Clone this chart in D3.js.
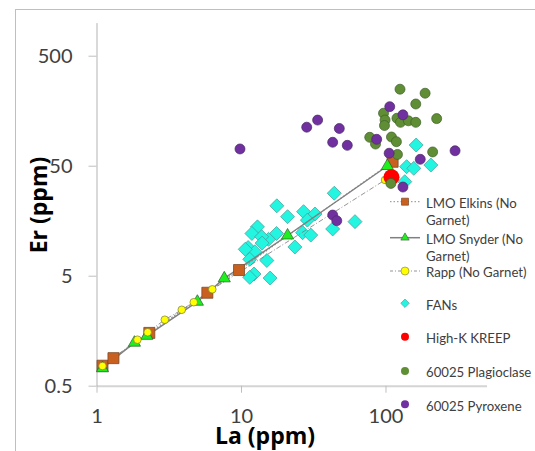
<!DOCTYPE html>
<html lang="en">
<head>
<meta charset="UTF-8">
<title>Er vs La</title>
<style>
  body { margin: 0; background: #fff; }
  text { font-family: Lato, "Open Sans", sans-serif; }
</style>
</head>
<body>
<div id="wrapper"></div>
<script src="https://cdn.jsdelivr.net/npm/d3@7"></script>
<script>
// data: [La, Er] in ppm
const elkins = [[1.10, 0.76], [1.31, 0.89], [2.32, 1.51], [5.85, 3.50], [9.69, 5.63], [112, 54.3]];
const snyder = [[1.10, 0.72], [1.83, 1.23], [2.23, 1.42], [4.99, 2.90], [7.66, 4.73], [21.0, 11.6], [103, 49.7]];
const rapp = [[1.10, 0.755], [1.92, 1.31], [2.26, 1.53], [2.97, 1.99], [3.89, 2.45], [4.71, 2.87], [6.33, 3.76], [99.3, 37.1]];
const fans = [[44.2, 28.1], [17.7, 21.6], [21.0, 17.2], [27.1, 19.1], [32.5, 18.2], [28.8, 16.0], [61.5, 15.5],
  [43.1, 13.3], [13.0, 13.9], [11.9, 12.1], [17.6, 12.1], [15.5, 10.7], [13.9, 11.3], [26.7, 12.3], [30.4, 11.7],
  [23.6, 9.12], [11.2, 9.02], [12.5, 8.26], [10.7, 8.69], [11.5, 7.05], [15.1, 6.87], [12.3, 5.18], [11.5, 4.83],
  [15.9, 4.76], [14.0, 9.9], [163, 77.1], [140, 49.0], [157, 47.3], [206, 50.7], [136, 35.8]];
const kreep = [[110, 39.3]];
const plagioclase = [[126, 248], [188, 228], [162, 182], [96.9, 150], [99.3, 130], [120, 135], [127, 124], [144, 128],
  [162, 124], [98.4, 116], [226, 134], [77.8, 90.6], [85.3, 78.7], [110, 91.2], [119, 82.6], [121, 63.3],
  [212, 66.7], [109, 34.5]];
const pyroxene = [[9.84, 71.0], [28.5, 112], [33.9, 130], [47.9, 109], [43.1, 81.7], [54.4, 76.6], [43.1, 17.8],
  [46.0, 15.8], [107, 172], [132, 145], [86.9, 86.9], [106, 64.9], [174, 57.2], [303, 68.4], [132, 32.0]];

const xTicks = [1, 10, 100];
const yTicks = [0.5, 5, 50, 500];
const legendLabels = [["LMO Elkins  (No", "Garnet)"], ["LMO Snyder (No", "Garnet)"], ["Rapp (No Garnet)"],
  ["FANs"], ["High-K KREEP"], ["60025 Plagioclase"], ["60025 Pyroxene"]];

const width = 535, height = 451;
const svg = d3.select('#wrapper').append('svg')
  .attr('width', width).attr('height', height);

// chart border
svg.append('rect')
  .attr('x', 15.5).attr('y', 9.5).attr('width', 600).attr('height', 600)
  .attr('fill', '#fff').attr('stroke', '#bfbfbf').attr('stroke-width', 1);

const x = d3.scaleLog().domain([1, 500]).range([96.5, 486.5]);
const y = d3.scaleLog().domain([0.5, 1000]).range([385.7, 22.6]);

// axes
const xAxis = svg.append('g')
  .attr('transform', `translate(0,${y(0.5)})`)
  .call(d3.axisBottom(x).tickValues(xTicks).tickFormat(d => d).tickSize(7).tickSizeOuter(0).tickPadding(16));
xAxis.select('.domain').attr('stroke', '#d4d4d4').attr('stroke-width', 2);
xAxis.selectAll('.tick line').attr('stroke', '#bfbfbf');

const yAxis = svg.append('g')
  .attr('transform', `translate(${x(1)},0)`)
  .call(d3.axisLeft(y).tickValues(yTicks).tickFormat(d => d).tickSize(8).tickSizeOuter(0).tickPadding(16));
yAxis.select('.domain').attr('stroke', '#b3b3b3');
yAxis.selectAll('.tick line').attr('stroke', '#bfbfbf');

svg.selectAll('.tick text')
  .style('font-family', 'Lato, sans-serif')
  .style('font-size', '20px')
  .attr('fill', '#404040');

// axis titles
svg.append('text')
  .attr('x', 265).attr('y', 444)
  .attr('text-anchor', 'middle')
  .style('font-family', '"Open Sans", sans-serif')
  .style('font-size', '23px').style('font-weight', 'bold')
  .attr('fill', '#000')
  .text('La (ppm)');

svg.append('text')
  .attr('transform', 'translate(47,205) rotate(-90)')
  .attr('text-anchor', 'middle')
  .style('font-family', '"Open Sans", sans-serif')
  .style('font-size', '23px').style('font-weight', 'bold')
  .attr('fill', '#000')
  .text('Er (ppm)');

const line = d3.line().x(d => x(d[0])).y(d => y(d[1]));
const plot = svg.append('g');

// FANs
plot.selectAll('.fan').data(fans).enter().append('path')
  .attr('class', 'fan')
  .attr('d', d3.symbol(d3.symbolSquare, 98))
  .attr('transform', d => `translate(${x(d[0])},${y(d[1])}) rotate(45)`)
  .attr('fill', '#22f5e0').attr('stroke', '#4a9c98').attr('stroke-width', 0.7);

// model lines
plot.append('path').datum(elkins).attr('d', line)
  .attr('fill', 'none').attr('stroke', '#8c8c8c').attr('stroke-width', 1.2).attr('stroke-dasharray', '1.5 2');
plot.append('path').datum(snyder).attr('d', line)
  .attr('fill', 'none').attr('stroke', '#808080').attr('stroke-width', 1.5);
plot.append('path').datum(rapp).attr('d', line)
  .attr('fill', 'none').attr('stroke', '#7a7a7a').attr('stroke-width', 0.8).attr('stroke-dasharray', '5 2 1 2');

plot.selectAll('.elk').data(elkins).enter().append('path')
  .attr('class', 'elk')
  .attr('d', d3.symbol(d3.symbolSquare, 121))
  .attr('transform', d => `translate(${x(d[0])},${y(d[1])})`)
  .attr('fill', '#c9601f').attr('stroke', '#7a4a2a').attr('stroke-width', 0.8);

plot.selectAll('.sny').data(snyder).enter().append('path')
  .attr('class', 'sny')
  .attr('d', d3.symbol(d3.symbolTriangle, 64))
  .attr('transform', d => `translate(${x(d[0])},${y(d[1])})`)
  .attr('fill', '#1ef01e').attr('stroke', '#2b5a2b').attr('stroke-width', 0.7);

plot.selectAll('.rapp').data(rapp).enter().append('circle')
  .attr('class', 'rapp')
  .attr('cx', d => x(d[0])).attr('cy', d => y(d[1])).attr('r', 3.8)
  .attr('fill', '#ffff00').attr('stroke', '#7a7a40').attr('stroke-width', 0.7);

plot.selectAll('.kreep').data(kreep).enter().append('circle')
  .attr('cx', d => x(d[0])).attr('cy', d => y(d[1])).attr('r', 8)
  .attr('fill', '#ff0000');

plot.selectAll('.plag').data(plagioclase).enter().append('circle')
  .attr('cx', d => x(d[0])).attr('cy', d => y(d[1])).attr('r', 5)
  .attr('fill', '#5f8e35').attr('stroke', '#3f5f2a').attr('stroke-width', 0.7);

plot.selectAll('.pyx').data(pyroxene).enter().append('circle')
  .attr('cx', d => x(d[0])).attr('cy', d => y(d[1])).attr('r', 5)
  .attr('fill', '#7030a0').attr('stroke', '#4a2a66').attr('stroke-width', 0.7);

// legend
const legend = svg.append('g');
const rowsY = [201.7, 237.7, 271, 303.3, 336.7, 371, 404.3];
const lx = 405, tx = 426;

legend.append('line').attr('x1', 390).attr('x2', 420).attr('y1', rowsY[0]).attr('y2', rowsY[0])
  .attr('stroke', '#8c8c8c').attr('stroke-dasharray', '1.5 2');
legend.append('path').attr('d', d3.symbol(d3.symbolSquare, 49))
  .attr('transform', `translate(${lx},${rowsY[0]})`)
  .attr('fill', '#c9601f').attr('stroke', '#7a4a2a').attr('stroke-width', 0.7);

legend.append('line').attr('x1', 390).attr('x2', 420).attr('y1', rowsY[1]).attr('y2', rowsY[1])
  .attr('stroke', '#808080').attr('stroke-width', 1.5);
legend.append('path').attr('d', d3.symbol(d3.symbolTriangle, 30))
  .attr('transform', `translate(${lx},${rowsY[1]})`)
  .attr('fill', '#1ef01e').attr('stroke', '#2b5a2b').attr('stroke-width', 0.6);

legend.append('line').attr('x1', 390).attr('x2', 420).attr('y1', rowsY[2]).attr('y2', rowsY[2])
  .attr('stroke', '#7a7a7a').attr('stroke-width', 0.8).attr('stroke-dasharray', '3 2 1 2');
legend.append('circle').attr('cx', lx).attr('cy', rowsY[2]).attr('r', 4)
  .attr('fill', '#ffff00').attr('stroke', '#7a7a40').attr('stroke-width', 0.6);

legend.append('path').attr('d', d3.symbol(d3.symbolSquare, 36))
  .attr('transform', `translate(${lx},${rowsY[3]}) rotate(45)`)
  .attr('fill', '#22f5e0').attr('stroke', '#4a9c98').attr('stroke-width', 0.6);
legend.append('circle').attr('cx', lx).attr('cy', rowsY[4]).attr('r', 4).attr('fill', '#ff0000');
legend.append('circle').attr('cx', lx).attr('cy', rowsY[5]).attr('r', 4).attr('fill', '#5f8e35');
legend.append('circle').attr('cx', lx).attr('cy', rowsY[6]).attr('r', 4).attr('fill', '#7030a0');

legendLabels.forEach((lines, i) => {
  lines.forEach((t, j) => {
    legend.append('text')
      .attr('x', tx).attr('y', rowsY[i] + 2.3 + j * 16.7)
      .attr('dy', '0.3em')
      .style('font-size', '13.2px')
      .attr('fill', '#404040')
      .text(t);
  });
});
</script>
</body>
</html>
